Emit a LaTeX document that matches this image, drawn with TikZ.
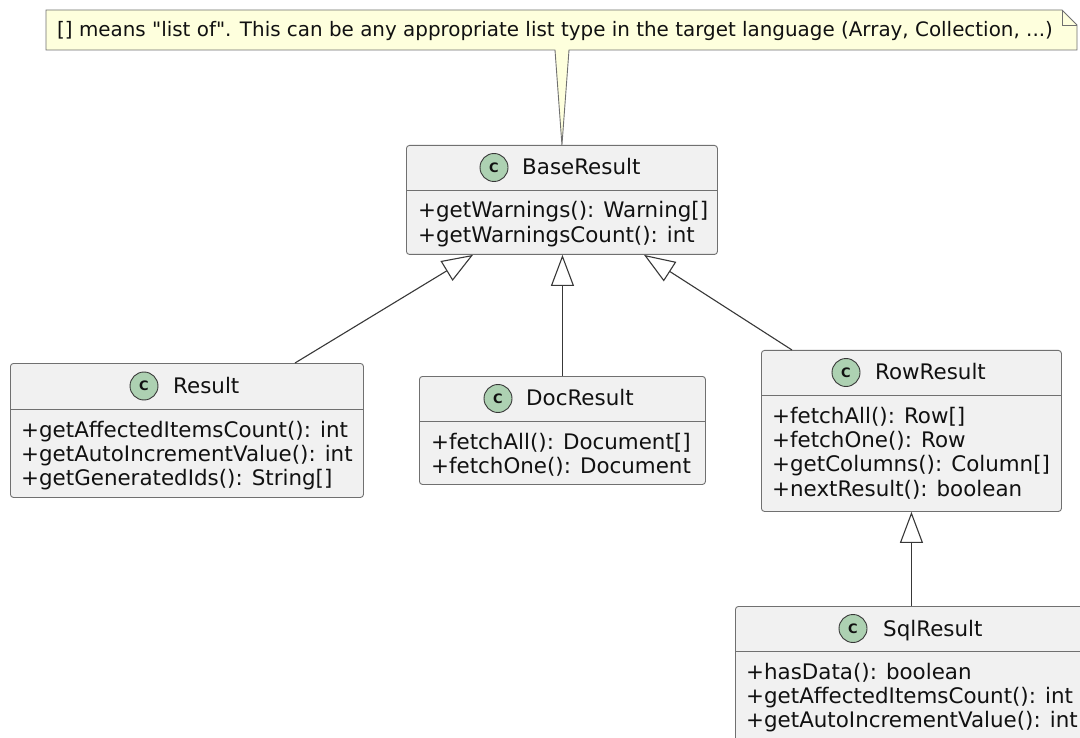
\documentclass[tikz,border=0pt]{standalone}
\usepackage{fontspec}
\setmainfont{DejaVu Sans}
\newfontfamily\notefont{DejaVu Sans}
\usetikzlibrary{arrows.meta}
\definecolor{boxfill}{HTML}{F1F1F1}
\definecolor{boxline}{HTML}{707070}
\definecolor{circfill}{HTML}{ADD1B2}
\definecolor{notefill}{HTML}{FEFFDD}
\definecolor{darkline}{HTML}{383838}
\definecolor{txt}{HTML}{111111}
\tikzset{
  classbox/.style={draw=boxline, fill=boxfill, line width=0.9pt, rounded corners=3pt, anchor=north west, inner sep=0pt},
  divider/.style={draw=boxline, line width=0.9pt},
  ccircle/.style={circle, draw=darkline, fill=circfill, line width=0.9pt, minimum size=28pt, inner sep=0pt, text=txt, font=\fontsize{13}{13}\selectfont\bfseries},
  ctitle/.style={anchor=base west, inner sep=0pt, text=txt, font=\fontsize{21.4}{24}\selectfont},
  member/.style={anchor=base west, inner sep=0pt, text=txt, font=\fontsize{21.4}{24}\selectfont},
  notetext/.style={anchor=base west, inner sep=0pt, text=txt, font=\notefont\fontsize{19.9}{22}\selectfont},
  notebox/.style={draw=boxline, fill=notefill, line width=0.9pt, line join=miter},
  genarrow/.style={draw=darkline, line width=1.1pt, -{Triangle[open, length=31pt, width=23pt, line width=1.1pt]}}
}
\begin{document}
\begin{tikzpicture}[x=1pt, y=-1pt]
\useasboundingbox (0,0) rectangle (1080,738);
\clip (0,0) rectangle (1080,738);
\fill[white] (0,0) rectangle (1080,738);

% ---------- classes ----------
% BaseResult
\node[classbox, minimum width=311pt, minimum height=109pt] (base) at (406,145) {};
\draw[divider] (base.west |- 0,190) -- (base.east |- 0,190);
\node[ccircle] (base-c) at (494,167.5) {C};
\node[ctitle] (base-t) at (522,175) {BaseResult};
\node[member] (base-1) at (418,218) {+getWarnings(): Warning[]};
\node[member] (base-2) at (418,242.4) {+getWarningsCount(): int};

% Result
\node[classbox, minimum width=353pt, minimum height=134pt] (result) at (10,363) {};
\draw[divider] (result.west |- 0,409) -- (result.east |- 0,409);
\node[ccircle] (result-c) at (144,386) {C};
\node[ctitle] (result-t) at (173,393.5) {Result};
\node[member] (result-1) at (21,437) {+getAffectedItemsCount(): int};
\node[member] (result-2) at (21,461.4) {+getAutoIncrementValue(): int};
\node[member] (result-3) at (21,485.8) {+getGeneratedIds(): String[]};

% DocResult
\node[classbox, minimum width=286pt, minimum height=108pt] (doc) at (419,376) {};
\draw[divider] (doc.west |- 0,421) -- (doc.east |- 0,421);
\node[ccircle] (doc-c) at (498,398.5) {C};
\node[ctitle] (doc-t) at (526,406) {DocResult};
\node[member] (doc-1) at (431,449) {+fetchAll(): Document[]};
\node[member] (doc-2) at (431,473.4) {+fetchOne(): Document};

% RowResult
\node[classbox, minimum width=300pt, minimum height=161pt] (row) at (761,350) {};
\draw[divider] (row.west |- 0,395) -- (row.east |- 0,395);
\node[ccircle] (row-c) at (846,372.5) {C};
\node[ctitle] (row-t) at (875,380) {RowResult};
\node[member] (row-1) at (772,423) {+fetchAll(): Row[]};
\node[member] (row-2) at (772,447.4) {+fetchOne(): Row};
\node[member] (row-3) at (772,471.8) {+getColumns(): Column[]};
\node[member] (row-4) at (772,496.2) {+nextResult(): boolean};

% SqlResult (runs past the frame)
\node[classbox, minimum width=352pt, minimum height=200pt] (sql) at (735,606) {};
\draw[divider] (sql.west |- 0,651) -- (sql.east |- 0,651);
\node[ccircle] (sql-c) at (853,628.5) {C};
\node[ctitle] (sql-t) at (883,636) {SqlResult};
\node[member] (sql-1) at (746,679) {+hasData(): boolean};
\node[member] (sql-2) at (746,703.4) {+getAffectedItemsCount(): int};
\node[member] (sql-3) at (746,727.8) {+getAutoIncrementValue(): int};

% ---------- note ----------
\draw[notebox] (46,10) -- (1062,10) -- (1077,25) -- (1077,50) -- (569,50)
  -- (base.north) -- (555,50) -- (46,50) -- cycle;
\draw[notebox, fill=none] (1062,10) -- (1062,25) -- (1077,25);
\node[notetext] (note) at (57,36.5) {[] means "list of". This can be any appropriate list type in the target language (Array, Collection, ...)};

% ---------- generalisations ----------
\draw[genarrow] ([xshift=285pt]result.north west) -- ([xshift=67pt]base.south west);
\draw[genarrow] (doc.north) -- (doc.north |- base.south);
\draw[genarrow] ([xshift=31pt]row.north west) -- ([xshift=238pt]base.south west);
\draw[genarrow] (sql.north -| row.south) -- (row.south);
\end{tikzpicture}
\end{document}
